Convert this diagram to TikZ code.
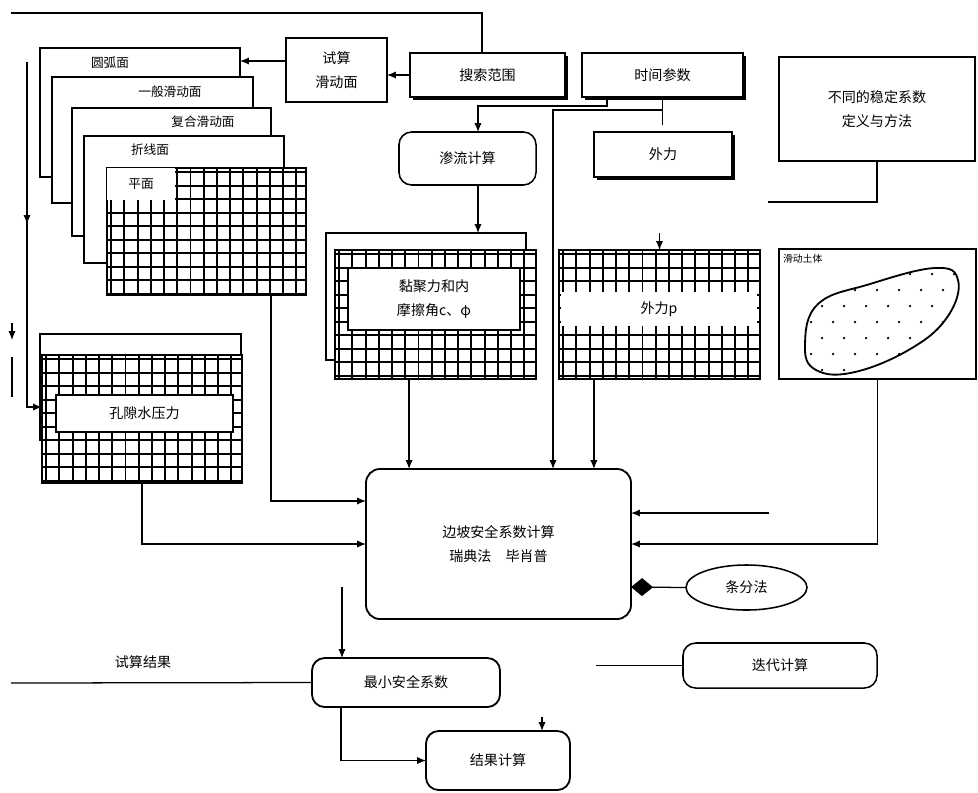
\documentclass[tikz,border=0pt]{standalone}
\usepackage{fontspec}
\setmainfont{Noto Sans CJK SC}
\usetikzlibrary{arrows.meta,positioning,shapes.geometric,shadows,decorations.markings}

\begin{document}
\begin{tikzpicture}[
  x=0.025cm, y=-0.025cm,
  every node/.style={font=\fontsize{10}{17}\selectfont, inner sep=0pt, outer sep=0pt},
  box/.style={rectangle, draw, fill=white, line width=1.1pt, align=center},
  sbox/.style={box, drop shadow={shadow xshift=1.8pt, shadow yshift=-1.8pt, fill=black, opacity=1}},
  pill/.style={box, rounded corners=9pt},
  card/.style={box, line width=1.4pt},
  thinbox/.style={box, line width=0.8pt},
  hatch/.style={rectangle, draw, fill=white, line width=1.6pt,
    path picture={
      \foreach \k in {0,...,22}
        \draw[line width=1.4pt] ([xshift=\k*9.4pt+3pt]path picture bounding box.north west) -- ([xshift=\k*9.4pt+3pt]path picture bounding box.south west);
      \foreach \k in {0,...,14}
        \draw[line width=1.4pt] ([yshift=-\k*9.6pt-3pt]path picture bounding box.north west) -- ([yshift=-\k*9.6pt-3pt]path picture bounding box.north east);
    }},
  blank/.style={rectangle, fill=white, align=center},
  wire/.style={line width=0.9pt},
  arr/.style={wire, -{Latex[length=2.2mm, width=1.8mm]}},
  midarr/.style={wire, postaction={decorate}, decoration={markings, mark=at position 0.45 with {\arrow{Latex[length=2.2mm, width=1.8mm]}}}}
]
\useasboundingbox (0,0) rectangle (978,792);

% top row
\node[box, minimum width=2.525cm, minimum height=1.6cm] (trial) at (336.5,70) {试算\\滑动面};
\node[sbox, minimum width=3.875cm, minimum height=1.1cm] (search) at (487.5,75) {搜索范围};
\node[sbox, minimum width=4.025cm, minimum height=1.1cm] (time) at (662.5,75) {时间参数};
\node[sbox, minimum width=3.45cm, minimum height=1.125cm] (force) at (663,154.5) {外力};
\node[box, line width=1.5pt, minimum width=4.9cm, minimum height=2.6cm] (method) at (877,109) {不同的稳定系数\\定义与方法};
\node[pill, minimum width=3.425cm, minimum height=1.325cm] (seep) at (467.5,158.5) {渗流计算};

% slip surface cards
\node[card, minimum width=5cm, minimum height=3.225cm] (card1) at (140,112.5) {};
\node[card, minimum width=5.025cm, minimum height=3.15cm] (card2) at (152.5,140) {};
\node[card, minimum width=4.975cm, minimum height=3.2cm] (card3) at (171.5,172) {};
\node[card, minimum width=5cm, minimum height=3.175cm] (card4) at (184,199.5) {};
\node[font=\fontsize{9}{11}\selectfont] (card1txt) at (110,63) {圆弧面};
\node[font=\fontsize{9}{11}\selectfont] (card2txt) at (170,92) {一般滑动面};
\node[font=\fontsize{9}{11}\selectfont] (card3txt) at (203,122) {复合滑动面};
\node[font=\fontsize{9}{11}\selectfont] (card4txt) at (150,150) {折线面};
\node[hatch, minimum width=4.975cm, minimum height=3.175cm] (front) at (206.5,231.5) {};
\node[blank, font=\fontsize{9}{11}\selectfont, minimum width=1.7cm, minimum height=0.8cm] (fronttxt) at (141,184) {平面};

% parameter boxes
\node[thinbox, minimum width=5cm, minimum height=3.175cm] (cohback) at (426,296.5) {};
\node[hatch, minimum width=5.025cm, minimum height=3.225cm] (cohgrid) at (435.5,314.5) {};
\node[box, line width=1.4pt, minimum width=4.3cm, minimum height=1.55cm] (cohtxt) at (434,299) {黏聚力和内\\摩擦角c、φ};
\node[hatch, minimum width=5.025cm, minimum height=3.225cm] (extgrid) at (659.5,314.5) {};
\node[blank, minimum width=4.9cm, minimum height=0.85cm] (exttxt) at (659,309) {外力p};
\node[box, line width=1.3pt, minimum width=4.925cm, minimum height=3.25cm] (region) at (877.5,314) {};
\node[font=\fontsize{7}{8}\selectfont, anchor=north west] (regiontxt) at (783,254) {滑动土体};
\node[thinbox, minimum width=5.025cm, minimum height=2.65cm] (poreback) at (140.5,387) {};
\node[hatch, minimum width=5cm, minimum height=3.2cm] (poregrid) at (142,419) {};
\node[box, line width=1.4pt, minimum width=4.425cm, minimum height=0.925cm] (poretxt) at (144.5,413.5) {孔隙水压力};

% sliding mass
\draw[line width=1.3pt] plot[smooth cycle, tension=0.7] coordinates {(805,345) (818,304) (870,284) (935,268) (958,280) (948,316) (912,348) (855,372) (816,370)};
\begin{scope}
  \clip plot[smooth cycle, tension=0.7] coordinates {(805,345) (818,304) (870,284) (935,268) (958,280) (948,316) (912,348) (855,372) (816,370)};
  \foreach \i in {0,...,8}
    \foreach \j in {0,...,6}
      \fill ({800+\i*22+mod(\j,2)*11},{274+\j*16}) circle[radius=0.9pt];
\end{scope}

% calculation
\node[box, line width=1.3pt, rounded corners=10pt, minimum width=6.625cm, minimum height=3.75cm] (center) at (498.5,544) {边坡安全系数计算\\瑞典法\quad 毕肖普};
\node[ellipse, draw, line width=1.1pt, minimum width=3.025cm, minimum height=1.125cm] (slice) at (746.5,587.5) {条分法};
\node[pill, minimum width=4.85cm, minimum height=1.125cm] (iter) at (780,665.5) {迭代计算};
\node[pill, line width=1.3pt, minimum width=4.7cm, minimum height=1.225cm] (minsf) at (406,682.5) {最小安全系数};
\node[pill, line width=1.3pt, minimum width=3.6cm, minimum height=1.475cm] (result) at (498,760.5) {结果计算};
\node (trialres) at (143,662) {试算结果};

% free ends
\coordinate (topleft) at (11,13);
\coordinate (leftTop) at (27,62);
\coordinate (markA) at (12,323);
\coordinate (markB) at (12,340);
\coordinate (markC) at (12,357);
\coordinate (markD) at (12,397);
\coordinate (methodEnd) at (768,202);
\coordinate (rightIn) at (769,513);
\coordinate (downStart) at (342,587);
\coordinate (bottomLeft) at (11,683);
\coordinate (iterStart) at (596,665.5);

% connectors
\draw[wire] (topleft) -| ([xshift=-0.14cm]search.north);
\draw[arr] (search.west) -- (search.west -| trial.east);
\draw[arr] ([yshift=0.225cm]trial.west) -- ([yshift=0.225cm]trial.west -| card1.east);
\draw[arr] ([xshift=-1.39cm]time.south) -- ++(0,9) -| ([xshift=0.2625cm]seep.north);
\draw[wire] (time.south) -- ++(0,28);
\draw[arr] (time.south) -- ++(0,13) -| ([xshift=1.3625cm]center.north);
\draw[arr] ([xshift=0.2625cm]seep.south) -- ([xshift=0.2625cm]seep.south |- cohback.north);
\draw[arr] ([yshift=0.43cm]extgrid.north) -- (extgrid.north);
\draw[wire] (method.south) |- (methodEnd);
\draw[arr] ([xshift=-0.66cm]cohgrid.south) -- ([xshift=-0.66cm]cohgrid.south |- center.north);
\draw[arr] ([xshift=-1.64cm]extgrid.south) -- ([xshift=-1.64cm]extgrid.south |- center.north);
\draw[arr] (region.south) |- (center.east);
\draw[arr] (rightIn) -- (rightIn -| center.east);
\draw[arr] ([xshift=1.6125cm]front.south) |- ([yshift=1.075cm]center.west);
\draw[arr] (poregrid.south) |- (center.west);
\draw[midarr, -{Latex[length=2.2mm, width=1.8mm]}] (leftTop) |- ([yshift=0.3cm]poregrid.west);
\draw[arr] (markA) -- (markB);
\draw[wire] (markC) -- (markD);
\draw[wire, {Diamond[length=5.5mm, width=4.5mm]}-] ([yshift=-1.075cm]center.east) -- (slice.west);
\draw[arr] (downStart) -- (downStart |- minsf.north);
\draw[wire] (minsf.west) -- (bottomLeft);
\draw[arr] ([xshift=-1.625cm]minsf.south) |- (result.west);
\draw[arr] ([xshift=1.1cm, yshift=0.35cm]result.north) -- ([xshift=1.1cm]result.north);
\draw[wire] (iterStart) -- (iter.west);

\end{tikzpicture}
\end{document}
